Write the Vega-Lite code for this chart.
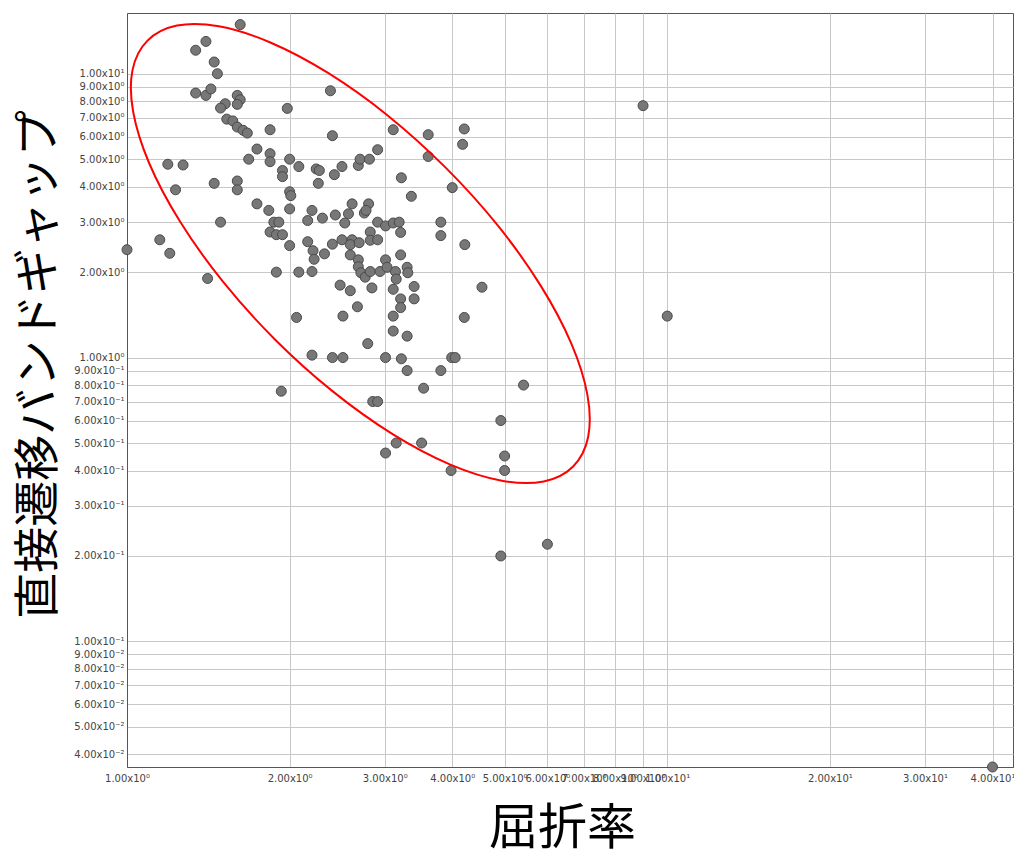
{
  "$schema": "https://vega.github.io/schema/vega-lite/v6.json",
  "width": 886,
  "height": 754,
  "autosize": {"type": "none"},
  "padding": {"left": 127, "top": 13, "right": 1, "bottom": 88},
  "background": "white",
  "config": {"view": {"stroke": "#555555", "strokeWidth": 1}},
  "datasets": {
    "pts": [
      {"n":1.62,"Eg":14.9},{"n":1.40,"Eg":13.0},{"n":1.34,"Eg":12.1},{"n":1.45,"Eg":11.0},{"n":1.47,"Eg":10.0},
      {"n":1.34,"Eg":8.55},{"n":1.40,"Eg":8.39},{"n":1.43,"Eg":8.84},{"n":1.60,"Eg":8.39},{"n":1.62,"Eg":8.10},
      {"n":1.60,"Eg":7.80},{"n":1.52,"Eg":7.84},{"n":1.49,"Eg":7.57},{"n":1.98,"Eg":7.55},{"n":1.53,"Eg":6.92},
      {"n":1.57,"Eg":6.82},{"n":1.60,"Eg":6.49},{"n":1.64,"Eg":6.32},{"n":1.67,"Eg":6.18},{"n":1.84,"Eg":6.35},
      {"n":1.74,"Eg":5.43},{"n":1.84,"Eg":5.23},{"n":1.68,"Eg":5.00},{"n":1.84,"Eg":4.90},{"n":2.00,"Eg":5.00},
      {"n":2.08,"Eg":4.71},{"n":1.94,"Eg":4.56},{"n":1.94,"Eg":4.34},{"n":1.19,"Eg":4.80},{"n":1.27,"Eg":4.77},
      {"n":1.23,"Eg":3.90},{"n":1.45,"Eg":4.11},{"n":1.60,"Eg":4.19},{"n":1.60,"Eg":3.90},{"n":2.00,"Eg":3.84},
      {"n":2.01,"Eg":3.72},{"n":1.74,"Eg":3.48},{"n":1.83,"Eg":3.30},{"n":2.00,"Eg":3.34},{"n":2.20,"Eg":3.30},
      {"n":1.49,"Eg":3.00},{"n":1.87,"Eg":3.00},{"n":1.91,"Eg":3.00},{"n":2.16,"Eg":3.04},{"n":1.15,"Eg":2.60},
      {"n":1.00,"Eg":2.40},{"n":1.20,"Eg":2.33},{"n":1.84,"Eg":2.77},{"n":1.89,"Eg":2.71},{"n":1.94,"Eg":2.71},
      {"n":2.00,"Eg":2.48},{"n":2.21,"Eg":2.38},{"n":1.89,"Eg":2.00},{"n":2.08,"Eg":2.00},{"n":1.41,"Eg":1.90},
      {"n":2.06,"Eg":1.385},{"n":1.93,"Eg":0.761},{"n":2.38,"Eg":8.71},{"n":2.40,"Eg":6.05},{"n":3.11,"Eg":6.35},
      {"n":3.61,"Eg":6.10},{"n":4.21,"Eg":6.39},{"n":4.18,"Eg":5.64},{"n":3.61,"Eg":5.11},{"n":2.24,"Eg":4.62},
      {"n":2.27,"Eg":4.56},{"n":2.42,"Eg":4.41},{"n":2.50,"Eg":4.71},{"n":2.68,"Eg":4.75},{"n":2.70,"Eg":5.00},
      {"n":2.81,"Eg":5.00},{"n":2.91,"Eg":5.40},{"n":2.26,"Eg":4.11},{"n":3.22,"Eg":4.30},{"n":3.36,"Eg":3.70},
      {"n":4.00,"Eg":3.97},{"n":2.61,"Eg":3.48},{"n":2.80,"Eg":3.48},{"n":2.30,"Eg":3.10},{"n":2.43,"Eg":3.18},
      {"n":2.57,"Eg":3.21},{"n":2.75,"Eg":3.23},{"n":2.77,"Eg":3.30},{"n":2.53,"Eg":2.98},{"n":2.91,"Eg":3.00},
      {"n":3.01,"Eg":2.91},{"n":3.11,"Eg":2.98},{"n":3.19,"Eg":3.00},{"n":3.21,"Eg":2.76},{"n":3.81,"Eg":3.00},
      {"n":3.81,"Eg":2.69},{"n":4.22,"Eg":2.50},{"n":2.16,"Eg":2.56},{"n":2.22,"Eg":2.22},{"n":2.32,"Eg":2.32},
      {"n":2.40,"Eg":2.51},{"n":2.50,"Eg":2.60},{"n":2.61,"Eg":2.60},{"n":2.59,"Eg":2.50},{"n":2.69,"Eg":2.54},
      {"n":2.82,"Eg":2.77},{"n":2.82,"Eg":2.59},{"n":2.91,"Eg":2.60},{"n":2.59,"Eg":2.30},{"n":2.68,"Eg":2.21},
      {"n":2.68,"Eg":2.09},{"n":2.71,"Eg":1.99},{"n":2.76,"Eg":1.92},{"n":2.82,"Eg":2.01},{"n":2.84,"Eg":1.76},
      {"n":2.94,"Eg":2.01},{"n":3.01,"Eg":2.21},{"n":3.03,"Eg":2.08},{"n":3.14,"Eg":2.01},{"n":3.15,"Eg":1.89},
      {"n":3.11,"Eg":1.74},{"n":3.21,"Eg":2.30},{"n":3.30,"Eg":2.08},{"n":3.31,"Eg":1.99},{"n":3.40,"Eg":1.78},
      {"n":3.40,"Eg":1.61},{"n":3.21,"Eg":1.61},{"n":3.21,"Eg":1.50},{"n":3.11,"Eg":1.40},{"n":3.11,"Eg":1.24},
      {"n":3.30,"Eg":1.19},{"n":2.20,"Eg":2.01},{"n":2.48,"Eg":1.80},{"n":2.59,"Eg":1.72},{"n":2.67,"Eg":1.51},
      {"n":2.51,"Eg":1.40},{"n":2.79,"Eg":1.12},{"n":2.20,"Eg":1.02},{"n":2.40,"Eg":1.00},{"n":2.51,"Eg":1.00},
      {"n":3.01,"Eg":1.00},{"n":3.22,"Eg":0.99},{"n":3.99,"Eg":1.00},{"n":4.05,"Eg":1.00},{"n":3.30,"Eg":0.90},
      {"n":3.81,"Eg":0.90},{"n":3.54,"Eg":0.78},{"n":4.21,"Eg":1.385},{"n":4.54,"Eg":1.77},{"n":5.42,"Eg":0.80},
      {"n":2.85,"Eg":0.70},{"n":2.91,"Eg":0.70},{"n":4.92,"Eg":0.60},{"n":3.15,"Eg":0.50},{"n":3.01,"Eg":0.461},
      {"n":3.51,"Eg":0.50},{"n":5.00,"Eg":0.45},{"n":3.98,"Eg":0.40},{"n":5.00,"Eg":0.40},{"n":6.00,"Eg":0.22},
      {"n":4.92,"Eg":0.20},{"n":9.02,"Eg":7.72},{"n":10.0,"Eg":1.40},{"n":40.0,"Eg":0.0361}
    ],
    "ellipse": [
      {"i":0,"n":6.696,"Eg":0.4135},{"i":1,"n":7.138,"Eg":0.5249},{"i":2,"n":7.117,"Eg":0.7376},
      {"i":3,"n":6.645,"Eg":1.1204},{"i":4,"n":5.834,"Eg":1.789},{"i":5,"n":4.864,"Eg":2.910},
      {"i":6,"n":3.893,"Eg":4.659},{"i":7,"n":3.041,"Eg":7.117},{"i":8,"n":2.356,"Eg":10.065},
      {"i":9,"n":1.842,"Eg":12.89},{"i":10,"n":1.479,"Eg":14.69},{"i":11,"n":1.2373,"Eg":14.78},
      {"i":12,"n":1.0913,"Eg":13.08},{"i":13,"n":1.0237,"Eg":10.30},{"i":14,"n":1.0268,"Eg":7.333},
      {"i":15,"n":1.0997,"Eg":4.829},{"i":16,"n":1.2527,"Eg":3.022},{"i":17,"n":1.5028,"Eg":1.859},
      {"i":18,"n":1.8766,"Eg":1.161},{"i":19,"n":2.4037,"Eg":0.7601},{"i":20,"n":3.102,"Eg":0.5374},
      {"i":21,"n":3.967,"Eg":0.4196},{"i":22,"n":4.941,"Eg":0.3683},{"i":23,"n":5.907,"Eg":0.3662}
    ]
  },
  "encoding": {
    "x": {
      "field": "n", "type": "quantitative",
      "scale": {"type": "log", "domain": [1, 43.65], "nice": false},
      "axis": {
        "values": [1,2,3,4,5,6,7,8,9,10,20,30,40],
        "labelExpr": "format(datum.value / pow(10, floor(log(datum.value)/LN10 + 1e-9)), '.2f') + 'x10' + (floor(log(datum.value)/LN10 + 1e-9) == 1 ? '¹' : floor(log(datum.value)/LN10 + 1e-9) == 0 ? '⁰' : floor(log(datum.value)/LN10 + 1e-9) == -1 ? '⁻¹' : '⁻²')",
        "ticks": false, "labelPadding": 6, "labelFont": "DejaVu Sans", "labelFontSize": 10, "labelColor": "#444444",
        "labelOverlap": false, "labelFlush": false, "labelBound": false,
        "grid": true, "gridColor": "#c8c8c8", "gridWidth": 1, "domainColor": "#555555",
        "title": "屈折率", "titleFont": "Noto Sans CJK JP", "titleFontSize": 49, "titleFontWeight": "normal", "titleColor": "#000000",
        "titleX": 435, "titleY": 61, "titleAlign": "center", "titleBaseline": "middle"
      }
    },
    "y": {
      "field": "Eg", "type": "quantitative",
      "scale": {"type": "log", "domain": [0.0361, 16.37], "nice": false},
      "axis": {
        "values": [0.04,0.05,0.06,0.07,0.08,0.09,0.1,0.2,0.3,0.4,0.5,0.6,0.7,0.8,0.9,1,2,3,4,5,6,7,8,9,10],
        "labelExpr": "format(datum.value / pow(10, floor(log(datum.value)/LN10 + 1e-9)), '.2f') + 'x10' + (floor(log(datum.value)/LN10 + 1e-9) == 1 ? '¹' : floor(log(datum.value)/LN10 + 1e-9) == 0 ? '⁰' : floor(log(datum.value)/LN10 + 1e-9) == -1 ? '⁻¹' : '⁻²')",
        "ticks": false, "labelPadding": 3, "labelFont": "DejaVu Sans", "labelFontSize": 10, "labelColor": "#444444",
        "labelOverlap": false, "labelFlush": false, "labelBound": false,
        "grid": true, "gridColor": "#c8c8c8", "gridWidth": 1, "domainColor": "#555555",
        "title": "直接遷移バンドギャップ", "titleFont": "Noto Sans CJK JP", "titleFontSize": 46, "titleFontWeight": "normal", "titleColor": "#000000",
        "titleX": -89, "titleY": 351, "titleAngle": -90, "titleAlign": "center", "titleBaseline": "middle"
      }
    }
  },
  "layer": [
    {
      "data": {"name": "pts"},
      "mark": {"type": "circle", "size": 100, "fill": "#777777", "stroke": "#4a4a4a", "strokeWidth": 1, "opacity": 1}
    },
    {
      "data": {"name": "ellipse"},
      "mark": {"type": "line", "color": "#ff0000", "strokeWidth": 2, "interpolate": "cardinal-closed"},
      "encoding": {"order": {"field": "i", "type": "quantitative"}}
    }
  ]
}
